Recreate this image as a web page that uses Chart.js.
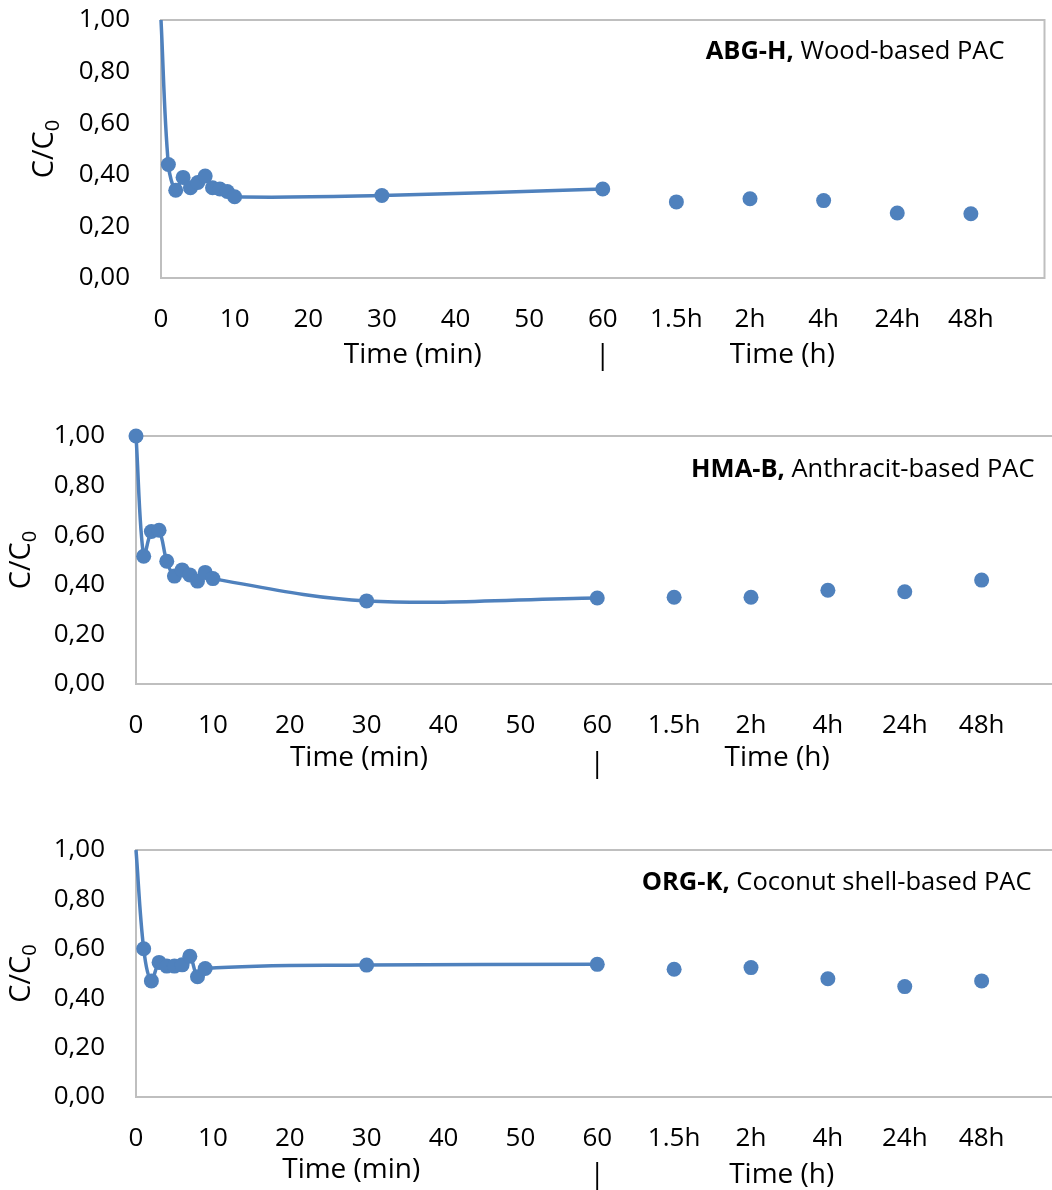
<!DOCTYPE html>
<html>
<head>
<meta charset="utf-8">
<script src="https://cdn.jsdelivr.net/npm/chart.js@4.4.1/dist/chart.umd.min.js"></script>
<style>
  html, body { margin: 0; padding: 0; background: #fff; overflow: hidden; }
  body { width: 1052px; height: 1190px; position: relative; }
  .panel { position: absolute; left: 0; }
</style>
</head>
<body>
<div class="panel" style="top:0;width:1052px;height:390px"><canvas id="abg"></canvas></div>
<div class="panel" style="top:400px;width:1066px;height:400px"><canvas id="hma"></canvas></div>
<div class="panel" style="top:810px;width:1066px;height:380px"><canvas id="org"></canvas></div>

<script>
const BLUE = '#4f81bd';
const FONT = '"Open Sans", Lato, sans-serif';

// sampling times (min) and the slots used for the long-term samples
const minTimes = [0, 1, 2, 3, 4, 5, 6, 7, 8, 9, 10, 30, 60];
const orgTimes = [0, 1, 2, 3, 4, 5, 6, 7, 8, 9, 30, 60];
const hourSlots = [70, 80, 90, 100, 110];
const hourLabels = ['1.5h', '2h', '4h', '24h', '48h'];

// C/C0 values
const abgMin  = [1.00, 0.44, 0.34, 0.39, 0.35, 0.37, 0.395, 0.35, 0.345, 0.335, 0.315, 0.32, 0.345];
const abgHour = [0.295, 0.307, 0.30, 0.252, 0.249];

const hmaMin  = [1.00, 0.515, 0.615, 0.62, 0.495, 0.435, 0.46, 0.44, 0.415, 0.45, 0.425, 0.335, 0.347];
const hmaHour = [0.35, 0.35, 0.378, 0.372, 0.419];

const orgMin  = [1.00, 0.60, 0.47, 0.545, 0.53, 0.53, 0.535, 0.57, 0.487, 0.52, 0.534, 0.537];
const orgHour = [0.517, 0.524, 0.479, 0.447, 0.47];

const pts = (xs, ys) => xs.map((x, i) => ({ x, y: ys[i] }));
const fmtY = v => v.toFixed(2).replace('.', ',');
const fmtX = v => {
  const i = hourSlots.indexOf(v);
  if (i >= 0) return hourLabels[i];
  return v <= 60 ? String(v) : '';
};

// frame around the plot area + the free text pieces (Excel text boxes)
const extras = {
  id: 'extras',
  beforeDatasetsDraw(chart) {
    const { ctx, chartArea: a } = chart;
    ctx.save();
    ctx.strokeStyle = '#bfbfbf';
    ctx.lineWidth = 2;
    ctx.strokeRect(a.left, a.top, a.right - a.left, a.bottom - a.top);
    ctx.restore();
  },
  afterDraw(chart, args, o) {
    const { ctx, chartArea: a, scales: { x } } = chart;
    ctx.save();
    ctx.fillStyle = '#000';
    ctx.textBaseline = 'middle';

    // sample name, bold code then plain description
    ctx.font = `${o.noteSize}px ${FONT}`;
    const descW = ctx.measureText(o.desc).width;
    ctx.textAlign = 'right';
    const ny = a.top + o.noteDy;
    ctx.fillText(o.desc, a.right - o.noteRight, ny);
    ctx.font = `bold ${o.noteSize}px ${FONT}`;
    ctx.fillText(o.code, a.right - o.noteRight - descW, ny);

    // axis titles
    ctx.font = `28px ${FONT}`;
    ctx.textAlign = 'center';
    ctx.fillText('Time (min)', x.getPixelForValue(o.minAt), a.bottom + o.minDy);
    ctx.fillText('Time (h)', x.getPixelForValue(o.hAt), a.bottom + o.hDy);
    ctx.fillText('|', x.getPixelForValue(60), a.bottom + o.barDy);

    // C/C0 with subscript, rotated
    ctx.translate(a.left - o.yTitleDx, (a.top + a.bottom) / 2);
    ctx.rotate(-Math.PI / 2);
    ctx.font = `29px ${FONT}`;
    const w1 = ctx.measureText('C/C').width;
    ctx.font = `20px ${FONT}`;
    const w2 = ctx.measureText('0').width;
    ctx.textAlign = 'left';
    ctx.font = `29px ${FONT}`;
    ctx.fillText('C/C', -(w1 + w2) / 2, 0);
    ctx.font = `20px ${FONT}`;
    ctx.fillText('0', -(w1 + w2) / 2 + w1, 8);
    ctx.restore();
  }
};

function makeChart(id, times, minVals, hourVals, p) {
  const radius = times.map((t, i) => (i === 0 && !p.firstMarker) ? 0 : 7.5);
  return new Chart(document.getElementById(id), {
    type: 'line',
    data: {
      datasets: [
        {
          data: pts(times, minVals),
          borderColor: BLUE,
          backgroundColor: BLUE,
          borderWidth: 3.5,
          pointRadius: radius,
          pointBorderWidth: 0,
          tension: 0.35,
          clip: false,
        },
        {
          data: pts(hourSlots, hourVals),
          showLine: false,
          borderColor: BLUE,
          backgroundColor: BLUE,
          pointRadius: 7.5,
          pointBorderWidth: 0,
          clip: false,
        },
      ],
    },
    options: {
      responsive: true,
      maintainAspectRatio: false,
      animation: false,
      layout: { padding: { top: p.padTop, right: 2, bottom: 0, left: 0 } },
      plugins: {
        legend: { display: false },
        tooltip: { enabled: false },
        extras: p,
      },
      scales: {
        x: {
          type: 'linear',
          min: 0,
          max: 120,
          // ticks are not drawn, tickLength only spaces the labels
          grid: { display: false, drawTicks: true, tickLength: 24 },
          border: { display: false },
          afterFit: s => { s.height = p.axisH; },
          ticks: {
            stepSize: 10,
            autoSkip: false,
            maxRotation: 0,
            padding: 2,
            color: '#000',
            font: { family: FONT, size: 26 },
            callback: fmtX,
          },
        },
        y: {
          min: 0,
          max: 1,
          grid: { display: false, drawTicks: true, tickLength: 29 },
          border: { display: false },
          afterFit: s => { s.width = p.yW; },
          ticks: {
            stepSize: 0.2,
            padding: 2,
            color: '#000',
            font: { family: FONT, size: 26 },
            callback: fmtY,
          },
        },
      },
    },
    plugins: [extras],
  });
}

makeChart('abg', minTimes, abgMin, abgHour, {
  code: 'ABG-H,', desc: ' Wood-based PAC', noteSize: 25.5, noteRight: 40, noteDy: 32,
  padTop: 20, axisH: 112, yW: 161, firstMarker: false,
  minAt: 34.2, minDy: 77, hAt: 84.4, hDy: 77, barDy: 78, yTitleDx: 116,
});

makeChart('hma', minTimes, hmaMin, hmaHour, {
  code: 'HMA-B,', desc: ' Anthracit-based PAC', noteSize: 25.5, noteRight: 24, noteDy: 34,
  padTop: 36, axisH: 116, yW: 136, firstMarker: true,
  minAt: 29, minDy: 74, hAt: 83.4, hDy: 74, barDy: 80, yTitleDx: 114,
});

makeChart('org', orgTimes, orgMin, orgHour, {
  code: 'ORG-K,', desc: ' Coconut shell-based PAC', noteSize: 25.5, noteRight: 27, noteDy: 33,
  padTop: 40, axisH: 93, yW: 136, firstMarker: false,
  minAt: 28, minDy: 73, hAt: 84, hDy: 78, barDy: 78, yTitleDx: 114,
});
</script>
</body>
</html>
